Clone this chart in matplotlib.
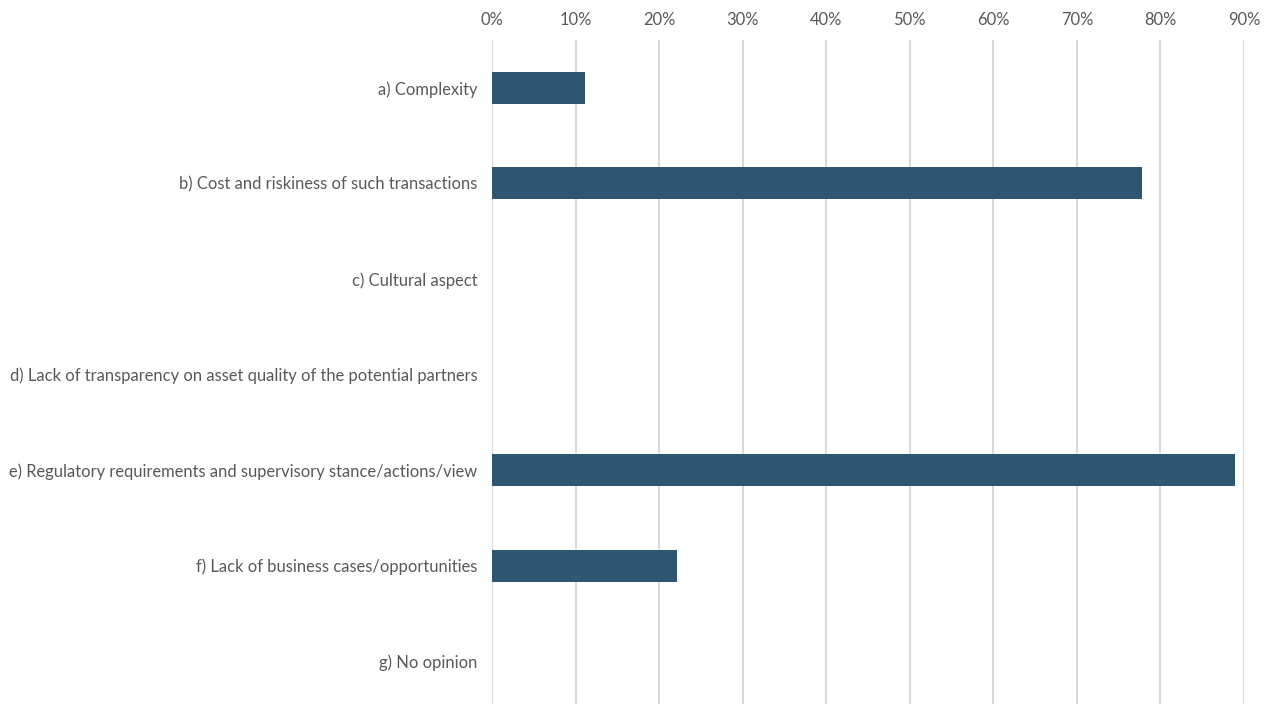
import matplotlib
matplotlib.use("Agg")
import matplotlib.pyplot as plt
from matplotlib.ticker import PercentFormatter

categories = [
    "a) Complexity",
    "b) Cost and riskiness of such transactions",
    "c) Cultural aspect",
    "d) Lack of transparency on asset quality of the potential partners",
    "e) Regulatory requirements and supervisory stance/actions/view",
    "f) Lack of business cases/opportunities",
    "g) No opinion",
]
values = [0.111, 0.778, 0.0, 0.0, 0.889, 0.222, 0.0]
xticks = [0, 0.1, 0.2, 0.3, 0.4, 0.5, 0.6, 0.7, 0.8, 0.9]

plt.rcParams['font.family'] = ['Lato', 'DejaVu Sans']

fig = plt.figure(figsize=(12.71, 7.04), dpi=100)
W, H = 1271, 704
ax = fig.add_axes([492 / W, (704 - 709) / H, (1244 - 492) / W, (709 - 40) / H])

ypos = list(range(len(categories)))
ax.barh(ypos, values, height=0.335, color="#2E5572", zorder=3)
ax.set_ylim(len(categories) - 0.5, -0.5)
ax.set_xlim(0, 0.9)
ax.set_xticks(xticks)
ax.xaxis.set_major_formatter(PercentFormatter(1.0, decimals=0))
ax.xaxis.tick_top()
ax.set_yticks(ypos)
ax.set_yticklabels(categories)
ax.tick_params(axis='both', length=0, labelsize=11.9, labelcolor="#595959")
ax.tick_params(axis='x', pad=8.5)
ax.tick_params(axis='y', pad=10.5)
ax.grid(axis='x', color="#D9D9D9", linewidth=1.5, zorder=0)
for s in ax.spines.values():
    s.set_visible(False)

fig.savefig("out.png", dpi=100)
